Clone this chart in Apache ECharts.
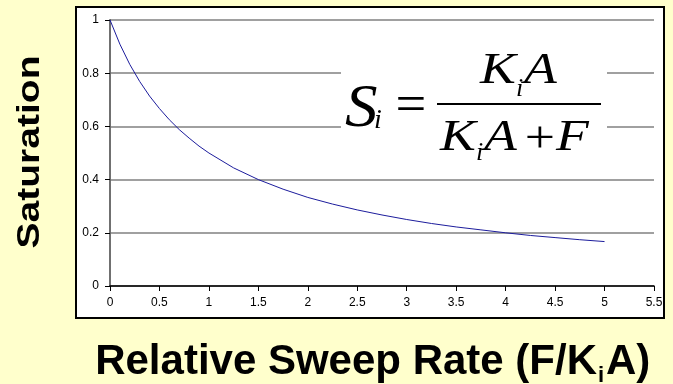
<!DOCTYPE html>
<html><head><meta charset="utf-8">
<script src="https://cdn.jsdelivr.net/npm/echarts@6/dist/echarts.min.js"></script>
<style>html,body{margin:0;padding:0;background:#FFFFCC}#c{width:673px;height:384px}</style>
</head><body><div id="c"></div>
<script>
// Relative sweep rate (F/KiA) values
const xValues = [0, 0.1, 0.2, 0.3, 0.4, 0.5, 0.6, 0.7, 0.8, 0.9, 1, 1.25, 1.5, 1.75, 2, 2.25, 2.5, 2.75, 3, 3.25, 3.5, 3.75, 4, 4.25, 4.5, 4.75, 5];
// Saturation values
const saturation = [1, 0.909, 0.833, 0.769, 0.714, 0.667, 0.625, 0.588, 0.556, 0.526, 0.5, 0.444, 0.4, 0.364, 0.333, 0.308, 0.286, 0.267, 0.25, 0.235, 0.222, 0.211, 0.2, 0.19, 0.182, 0.174, 0.167];
const xTicks = [0, 0.5, 1, 1.5, 2, 2.5, 3, 3.5, 4, 4.5, 5, 5.5];
const yTicks = [0, 0.2, 0.4, 0.6, 0.8, 1];
const yTitle = 'Saturation';
const xTitleMain = 'Relative Sweep Rate (F/K';
const xTitleSub = 'i';
const xTitleEnd = 'A)';

const chart = echarts.init(document.getElementById('c'));
const serif = '"Liberation Serif","Times New Roman",serif';
const sans = '"Liberation Sans",Arial,sans-serif';
const seriesData = xValues.map((x, i) => [x, saturation[i]]);
const fx = 1.22;

function ft(text, x, y, size, italic, sx, align) {
  return { type: 'text', x: x, y: y, scaleX: sx || 1, z: 11,
    style: { text: text, font: (italic ? 'italic ' : '') + size + 'px ' + serif, fill: '#000', align: align || 'left', verticalAlign: 'middle' } };
}

chart.setOption({
  backgroundColor: '#FFFFCC',
  animation: false,
  grid: { left: 110, top: 20, right: 19, bottom: 98, containLabel: false },
  xAxis: {
    type: 'value', min: xTicks[0], max: xTicks[xTicks.length - 1], interval: 0.5,
    axisLine: { show: true, onZero: false, lineStyle: { color: '#000', width: 1.5 } },
    axisTick: { show: true, length: 5, lineStyle: { color: '#000' } },
    axisLabel: { color: '#000', fontSize: 12, fontFamily: sans, margin: 11, showMaxLabel: true, showMinLabel: true },
    splitLine: { show: false }
  },
  yAxis: [{
    type: 'value', min: yTicks[0], max: yTicks[yTicks.length - 1], interval: 0.2,
    axisLine: { show: true, onZero: false, lineStyle: { color: '#000', width: 1.5 } },
    axisTick: { show: true, length: 5, lineStyle: { color: '#000' } },
    axisLabel: { color: '#000', fontSize: 12, fontFamily: sans, margin: 11 },
    splitLine: { show: true, lineStyle: { color: '#808080', width: 1.5 } }
  }, {
    type: 'value', min: 0, max: 1, position: 'right',
    axisLine: { show: true, lineStyle: { color: '#808080', width: 1.5 } },
    axisTick: { show: false }, axisLabel: { show: false }, splitLine: { show: false }
  }],
  series: [{
    type: 'line', data: seriesData, showSymbol: false, smooth: false,
    lineStyle: { color: '#1c1c9c', width: 1 }, z: 5
  }],
  graphic: [
    { type: 'rect', shape: { x: 76, y: 7, width: 588, height: 311 }, style: { fill: '#fff', stroke: '#000', lineWidth: 2 }, z: -10, silent: true },
    { type: 'rect', shape: { x: 341, y: 35, width: 266, height: 135 }, style: { fill: '#fff' }, z: 10 },
    { type: 'text', x: 30, y: 152, rotation: Math.PI / 2, scaleX: 1.26, z: 10,
      style: { text: yTitle, font: 'bold 31px ' + sans, fill: '#000', align: 'center', verticalAlign: 'middle' } },
    { type: 'text', x: 597, y: 362, z: 10,
      style: { text: xTitleMain, font: 'bold 42px ' + sans, fill: '#000', align: 'right', verticalAlign: 'middle' } },
    { type: 'text', x: 598, y: 376, z: 10,
      style: { text: xTitleSub, font: 'bold 22px ' + sans, fill: '#000', align: 'left', verticalAlign: 'middle' } },
    { type: 'text', x: 606, y: 362, z: 10,
      style: { text: xTitleEnd, font: 'bold 42px ' + sans, fill: '#000', align: 'left', verticalAlign: 'middle' } },
    // formula
    ft('S', 345, 110, 62, true, 1.05),
    ft('i', 374, 121, 28, true, 1),
    ft('=', 411, 107, 52, false, 1.05, 'center'),
    { type: 'line', shape: { x1: 437, y1: 104, x2: 601, y2: 104 }, style: { stroke: '#000', lineWidth: 2 }, z: 11 },
    ft('K', 480, 71, 44, true, fx),
    ft('i', 516, 89, 26, true, 1),
    ft('A', 524, 71, 44, true, fx),
    ft('K', 440, 138, 44, true, fx),
    ft('i', 476, 153, 26, true, 1),
    ft('A', 484, 138, 44, true, fx),
    ft('+', 540, 140, 44, false, fx, 'center'),
    ft('F', 556, 138, 44, true, fx)
  ]
});
</script></body></html>
